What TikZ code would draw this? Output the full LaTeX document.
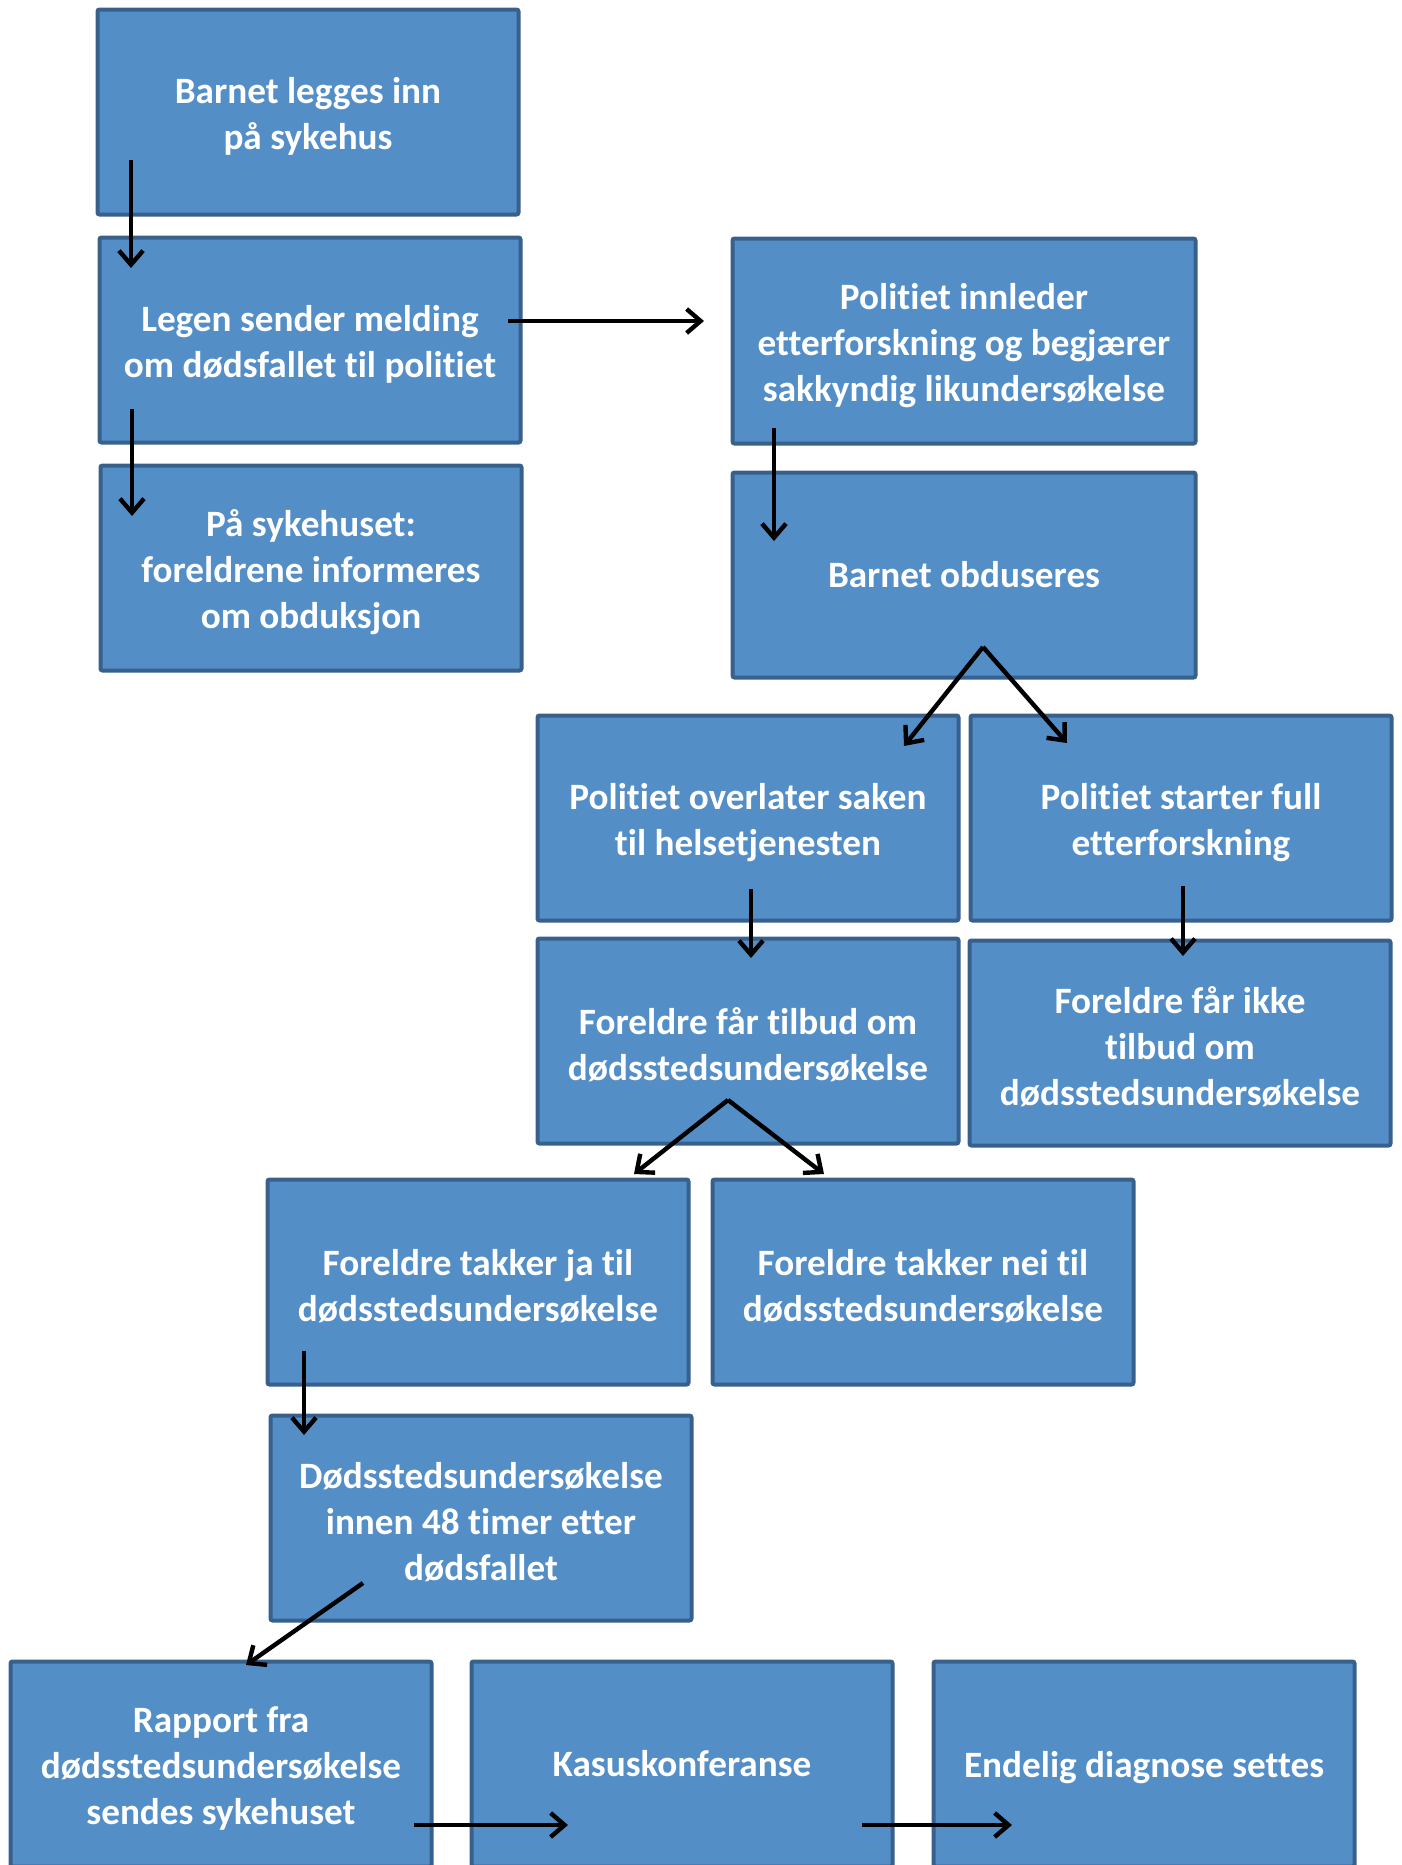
\documentclass[tikz,border=0pt]{standalone}
\usepackage{fontspec}
\setmainfont{Carlito}[Ligatures=NoCommon]
\usepackage{tikz}
\usetikzlibrary{arrows.meta,calc}

\definecolor{boxfill}{RGB}{84,142,199}
\definecolor{boxline}{RGB}{56,96,140}
\newcommand{\topp}{\rule{0pt}{17.5pt}}

\tikzset{
  boks/.style={draw=boxline, fill=boxfill, line width=2pt, rounded corners=1pt,
    minimum width=210.5pt, minimum height=102.5pt, align=center, text=white,
    font=\bfseries\fontsize{18.6}{23}\selectfont, inner sep=0pt},
  bred/.style={boks, minimum width=231.5pt},
  pil/.style={-{Straight Barb[length=7pt,width=12pt]}, line width=2.2pt, black}
}

\begin{document}
\begin{tikzpicture}[x=0.5pt,y=-0.5pt]
\useasboundingbox (0,0) rectangle (1402,1865);
\node[boks] (A) at (308,112) {\topp Barnet legges inn\\på sykehus};
\node[boks] (B) at (310,340) {\topp Legen sender melding\\om dødsfallet til politiet};
\node[boks] (C) at (311,568) {\topp På sykehuset:\\foreldrene informeres\\om obduksjon};
\node[bred] (D) at (964,341) {\topp Politiet innleder\\etterforskning og begjærer\\sakkyndig likundersøkelse};
\node[bred] (E) at (964,575) {Barnet obduseres};
\node[boks] (F) at (748,818) {\topp Politiet overlater saken\\til helsetjenesten};
\node[boks] (G) at (1181,818) {\topp Politiet starter full\\etterforskning};
\node[boks] (H) at (748,1041) {\topp Foreldre får tilbud om\\dødsstedsundersøkelse};
\node[boks] (I) at (1180,1043) {\topp Foreldre får ikke\\tilbud om\\dødsstedsundersøkelse};
\node[boks] (J) at (478,1282) {\topp Foreldre takker ja til\\dødsstedsundersøkelse};
\node[boks] (K) at (923,1282) {\topp Foreldre takker nei til\\dødsstedsundersøkelse};
\node[boks] (L) at (481,1518) {\topp Dødsstedsundersøkelse\\innen 48 timer etter\\dødsfallet};
\node[boks] (M) at (221,1764) {\topp Rapport fra\\dødsstedsundersøkelse\\sendes sykehuset};
\node[boks] (N) at (682,1764) {Kasuskonferanse};
\node[boks] (O) at (1144,1764) {\raisebox{0pt}[\height][0pt]{Endelig diagnose settes}};
% piler
\draw[pil] ($(A)+(-177,48)$) -- ($(B)+(-179,-72)$);
\draw[pil] ($(B)+(198,-19)$) -- ($(D)+(-260,-20)$);
\draw[pil] ($(B)+(-178,69)$) -- ($(C)+(-179,-52)$);
\draw[pil] ($(D)+(-190,87)$) -- ($(E)+(-190,-34)$);
\draw[pil] ($(E)+(19,72)$) -- ($(F)+(156,-72)$);
\draw[pil] ($(E)+(19,72)$) -- ($(G)+(-114,-75)$);
\draw[pil] ($(F)+(3,71)$) -- ($(H)+(3,-83)$);
\draw[pil] ($(G)+(2,68)$) -- ($(I)+(3,-87)$);
\draw[pil] ($(H)+(-20,59)$) -- ($(J)+(156,-108)$);
\draw[pil] ($(H)+(-20,59)$) -- ($(K)+(-99,-108)$);
\draw[pil] ($(J)+(-174,69)$) -- ($(L)+(-177,-83)$);
\draw[pil] ($(L)+(-118,65)$) -- ($(M)+(25,-99)$);
\draw[pil] ($(M)+(193,61)$) -- ($(N)+(-114,61)$);
\draw[pil] ($(N)+(180,61)$) -- ($(O)+(-132,61)$);
\end{tikzpicture}
\end{document}
